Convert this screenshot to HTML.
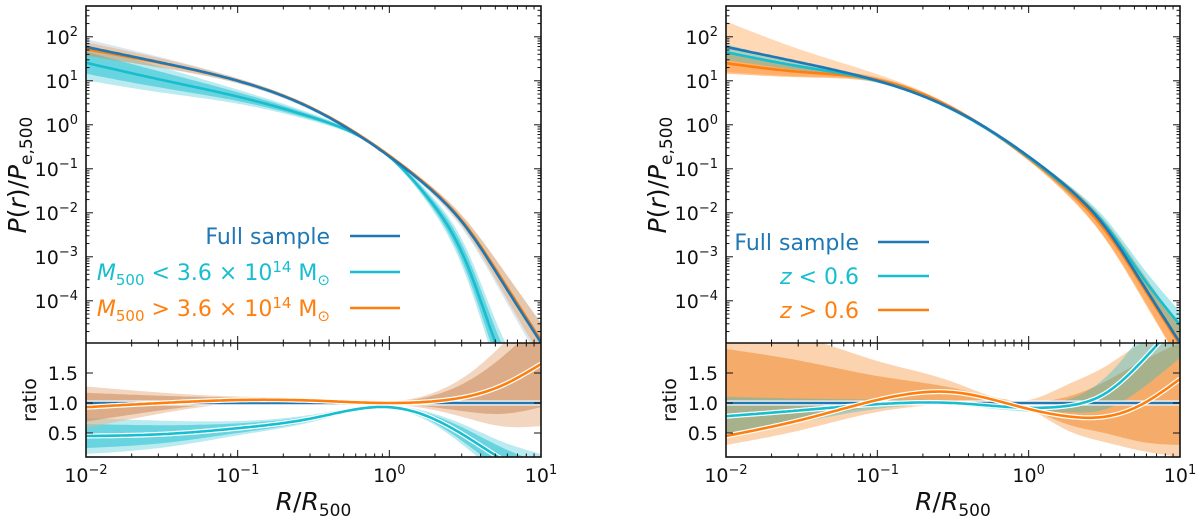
<!DOCTYPE html>
<html><head><meta charset="utf-8"><style>
body{margin:0;background:#fff;}
svg text{font-family:"DejaVu Sans","Liberation Sans",sans-serif;fill:#111;}
</style></head><body>
<svg id="fig" width="1200" height="523" viewBox="0 0 1200 523" xmlns="http://www.w3.org/2000/svg"></svg>
<script>
// ---- data (log10 x knots) ----
const knotsX = [-2, -1.5, -1, -0.5, 0, 0.25, 0.5, 0.75, 1];
// left top panel: log10 P
const L_full   = [1.77, 1.41, 1.0, 0.35, -0.72, -1.4, -2.3, -3.6, -4.95];
const L_high   = [1.72, 1.40, 1.0, 0.36, -0.70, -1.38, -2.27, -3.55, -4.9];
const L_low    = [1.41, 1.02, 0.64, 0.16, -0.72, -1.64, -3.07, -5.4, -7.0];
const L_bandHi = [0.12, 0.08, 0.04, 0.03, 0.02, 0.05, 0.1, 0.2, 0.3];
const L_bandLo = [0.25, 0.18, 0.1, 0.05, 0.03, 0.08, 0.2, 0.35, 0.5];
// left ratio panel
const LR_high  = [0.93, 1.0, 1.05, 1.04, 1.0, 1.02, 1.1, 1.3, 1.65];
const LR_low   = [0.45, 0.48, 0.58, 0.75, 0.93, 0.78, 0.45, 0.05, -0.3];
const LR_highW = [0.3, 0.15, 0.05, 0.03, 0.02, 0.1, 0.3, 0.6, 0.9];
const LR_lowW  = [0.2, 0.15, 0.08, 0.04, 0.02, 0.05, 0.12, 0.2, 0.3];
// right top panel
const R_full   = [1.77, 1.41, 1.0, 0.35, -0.72, -1.4, -2.3, -3.6, -4.95];
const R_lowz   = [1.65, 1.32, 1.0, 0.34, -0.74, -1.42, -2.25, -3.45, -4.55];
const R_highz  = [1.4, 1.2, 1.02, 0.37, -0.76, -1.46, -2.37, -3.65, -5.0];
const R_highzLo= [1.2, 1.1, 0.98, 0.34, -0.8, -1.55, -2.55, -3.9, -5.4];
const R_highzHi= [2.35, 1.7, 1.15, 0.42, -0.7, -1.35, -2.2, -3.4, -4.6];
const R_lowzW  = [0.12, 0.06, 0.03, 0.02, 0.03, 0.06, 0.1, 0.15, 0.2];
// right ratio panel
const RR_lowz  = [0.78, 0.88, 0.98, 1.0, 0.92, 0.95, 1.15, 1.7, 2.4];
const RR_highz = [0.45, 0.72, 1.05, 1.18, 0.9, 0.78, 0.77, 0.98, 1.4];
const RR_outHi = [2.3, 2.1, 1.7, 1.35, 1.05, 1.3, 1.6, 2.0, 2.2];
const RR_outLo = [0.3, 0.55, 0.85, 1.0, 0.9, 0.55, 0.35, 0.2, 0.1];
const RR_inHi  = [1.9, 1.7, 1.45, 1.25, 1.02, 1.1, 1.35, 1.7, 2.0];
const RR_inLo  = [0.5, 0.7, 0.95, 1.0, 0.9, 0.65, 0.5, 0.35, 0.3];
const RR_lowzW = [0.25, 0.15, 0.06, 0.03, 0.05, 0.08, 0.2, 0.35, 0.5];
const xTickLabels = ["−2","−1","0","1"];
const yTickLabels = ["2","1","0","−1","−2","−3","−4"];
const rTickLabels = ["0.5","1.0","1.5"];
const C_BLUE="#1f77b4", C_CYAN="#17becf", C_ORANGE="#ff7f0e";

const NS="http://www.w3.org/2000/svg";
const svg=document.getElementById('fig');
function mk(tag,attrs,parent){const e=document.createElementNS(NS,tag);for(const k in attrs)e.setAttribute(k,attrs[k]);(parent||svg).appendChild(e);return e;}
function spline(ys){ // natural cubic spline on knotsX
  const x=knotsX,n=x.length,h=[],al=[],l=[1],mu=[0],z=[0],c=new Array(n).fill(0),b=[],d=[];
  for(let i=0;i<n-1;i++)h.push(x[i+1]-x[i]);
  for(let i=1;i<n-1;i++)al[i]=3/h[i]*(ys[i+1]-ys[i])-3/h[i-1]*(ys[i]-ys[i-1]);
  for(let i=1;i<n-1;i++){l[i]=2*(x[i+1]-x[i-1])-h[i-1]*mu[i-1];mu[i]=h[i]/l[i];z[i]=(al[i]-h[i-1]*z[i-1])/l[i];}
  z[n-1]=0;
  for(let j=n-2;j>=0;j--){c[j]=z[j]-mu[j]*c[j+1];b[j]=(ys[j+1]-ys[j])/h[j]-h[j]*(c[j+1]+2*c[j])/3;d[j]=(c[j+1]-c[j])/(3*h[j]);}
  return t=>{let i=0;while(i<n-2&&t>x[i+1])i++;const u=t-x[i];return ys[i]+b[i]*u+c[i]*u*u+d[i]*u*u*u;};
}
const TOP=6,MID=343,BOT=457;
function panel(x0,W,idx){
  const sx=lx=>x0+(lx+2)/3*W;
  const sy=ly=>TOP+(2.7-ly)*44;
  const sr=r=>403-(r-1)*60;
  const cid='clipT'+idx, rid='clipR'+idx;
  const defs=mk('defs',{});
  const c1=mk('clipPath',{id:cid},defs);mk('rect',{x:x0,y:TOP,width:W,height:MID-TOP},c1);
  const c2=mk('clipPath',{id:rid},defs);mk('rect',{x:x0,y:MID,width:W,height:BOT-MID},c2);
  const gT=mk('g',{'clip-path':`url(#${cid})`});
  
  const gR=mk('g',{'clip-path':`url(#${rid})`});
  
  const N=150;const ts=[];for(let i=0;i<=N;i++)ts.push(-2+3*i/N);
  function line(g,ys,sc,col,name,outline){
    const f=spline(ys);
    const d=ts.map((t,i)=>(i?'L':'M')+sx(t).toFixed(1)+','+sc(f(t)).toFixed(1)).join('');
    if(outline){const o=mk('path',{d,fill:'none',stroke:'#fff','stroke-width':5},g);}
    const p=mk('path',{d,fill:'none',stroke:col,'stroke-width':2.6},g);
    
  }
  function area(g,hi,lo,sc,col,op,name){
    const fh=spline(hi),fl=spline(lo);
    const up=ts.map(t=>[sx(t),sc(fh(t))]);
    const dn=ts.map(t=>[sx(t),sc(fl(t))]).reverse();
    const d='M'+up.concat(dn).map(p=>p[0].toFixed(1)+','+p[1].toFixed(1)).join('L')+'Z';
    const p=mk('path',{d,fill:col,'fill-opacity':op,stroke:'none'},g);
    
  }
  function band(g,ys,ws,mult,sc,col,op,name){
    area(g,ys.map((v,i)=>v+mult*ws[i]),ys.map((v,i)=>v-mult*ws[i]),sc,col,op,name);
  }
  return {sx,sy,sr,gT,gR,line,band,area,x0,W};
}
function axes(P,idx,legend){
  const {sx,sy,sr,x0,W}=P;
  const fr=mk('rect',{x:x0,y:TOP,width:W,height:BOT-TOP,fill:'none',stroke:'#111','stroke-width':1.6});
  
  const dv=mk('line',{x1:x0,x2:x0+W,y1:MID,y2:MID,stroke:'#111','stroke-width':1.6});
  
  const tk=mk('g',{stroke:'#111','stroke-width':1});
  
  for(let d=-2;d<=1;d++){for(let m=1;m<10;m++){const lx=d+Math.log10(m);if(lx>1)break;const X=sx(lx);const L=m===1?7:3.5;
    [[TOP,1],[MID,-1],[MID,1],[BOT,-1]].forEach(([y,s])=>mk('line',{x1:X,x2:X,y1:y,y2:y+s*L},tk));}}
  for(let d=-5;d<=2;d++){for(let m=1;m<10;m++){const ly=d+Math.log10(m);const Y=sy(ly);if(Y<TOP||Y>MID)continue;const L=m===1?7:3.5;
    mk('line',{x1:x0,x2:x0+L,y1:Y,y2:Y},tk);mk('line',{x1:x0+W,x2:x0+W-L,y1:Y,y2:Y},tk);}}
  [0.5,1.0,1.5].forEach(r=>{const Y=sr(r);mk('line',{x1:x0,x2:x0+7,y1:Y,y2:Y},tk);mk('line',{x1:x0+W,x2:x0+W-7,y1:Y,y2:Y},tk);});
  xTickLabels.forEach((lab,i)=>{const t=mk('text',{x:sx(i-2),y:482,'font-size':19,'text-anchor':'middle'});
    
    t.innerHTML='10<tspan dy="-8" font-size="13">'+lab+'</tspan>';});
  yTickLabels.forEach((lab,i)=>{const t=mk('text',{x:x0-8,y:sy(2-i)+7,'font-size':19,'text-anchor':'end'});
    
    t.innerHTML='10<tspan dy="-8" font-size="13">'+lab+'</tspan>';});
  rTickLabels.forEach((lab,i)=>{const t=mk('text',{x:x0-8,y:sr(0.5+0.5*i)+7,'font-size':19,'text-anchor':'end'});
    t.textContent=lab;});
  const yl=mk('text',{transform:`translate(${x0-60},175) rotate(-90)`,'font-size':25,'text-anchor':'middle'});
  
  yl.innerHTML='<tspan font-style="italic">P</tspan>(<tspan font-style="italic">r</tspan>)/<tspan font-style="italic">P</tspan><tspan font-size="17" dy="6">e,500</tspan>';
  const rl=mk('text',{transform:`translate(${x0-50},400) rotate(-90)`,'font-size':19,'text-anchor':'middle'});
  rl.textContent='ratio';
  const xl=mk('text',{x:x0+W/2,y:510,'font-size':25,'text-anchor':'middle'});
  
  xl.innerHTML='<tspan font-style="italic">R</tspan>/<tspan font-style="italic">R</tspan><tspan font-size="17" dy="6">500</tspan>';
  legend.forEach(([html,col,y,tx,l1,l2])=>{
    const g=mk('g',{});
    const t=mk('text',{x:tx,y:y+8,'font-size':22,'text-anchor':'end',fill:col,style:'fill:'+col},g);t.innerHTML=html;
    mk('line',{x1:l1,x2:l2,y1:y,y2:y,stroke:col,'stroke-width':2.6},g);
  });
}
// Left panel
const A=panel(86,455,1);
A.band(A.gT,L_low,L_bandLo,1.6,A.sy,C_CYAN,0.3,'band-low-mass-outer');
A.band(A.gT,L_low,L_bandLo,1,A.sy,C_CYAN,0.5,'band-low-mass');
A.band(A.gT,L_full,L_bandHi,1.5,A.sy,'#6a9fc8',0.25,'band-full');
A.band(A.gT,L_high,L_bandHi,1.3,A.sy,C_ORANGE,0.3,'band-high-mass');
A.line(A.gT,L_low,A.sy,C_CYAN,'line-low-mass');
A.line(A.gT,L_high,A.sy,C_ORANGE,'line-high-mass');
A.line(A.gT,L_full,A.sy,C_BLUE,'line-full');
A.band(A.gR,LR_low,LR_lowW,1.5,A.sr,C_CYAN,0.3,'ratio-band-low-mass-outer');
A.band(A.gR,LR_low,LR_lowW,1,A.sr,C_CYAN,0.5,'ratio-band-low-mass');
A.band(A.gR,LR_high,LR_highW,1.15,A.sr,'#e8b48a',0.55,'ratio-band-high-mass-outer');
A.band(A.gR,LR_high,LR_highW,0.8,A.sr,'#c98a5a',0.55,'ratio-band-high-mass');
A.line(A.gR,[1,1,1,1,1,1,1,1,1],A.sr,C_BLUE,'ratio-line-full',true);
A.line(A.gR,LR_high,A.sr,C_ORANGE,'ratio-line-high-mass',true);
A.line(A.gR,LR_low,A.sr,C_CYAN,'ratio-line-low-mass',true);
axes(A,1,[
 ['Full sample',C_BLUE,236,330,350,400],
 ['<tspan font-style="italic">M</tspan><tspan font-size="15" dy="5">500</tspan><tspan dy="-5"> &lt; 3.6 × 10</tspan><tspan font-size="15" dy="-8">14</tspan><tspan dy="8"> M</tspan><tspan font-size="15" dy="5">⊙</tspan>',C_CYAN,272,330,350,400],
 ['<tspan font-style="italic">M</tspan><tspan font-size="15" dy="5">500</tspan><tspan dy="-5"> &gt; 3.6 × 10</tspan><tspan font-size="15" dy="-8">14</tspan><tspan dy="8"> M</tspan><tspan font-size="15" dy="5">⊙</tspan>',C_ORANGE,308,330,350,400]
]);
// Right panel
const B=panel(726,454,2);
B.area(B.gT,R_highzHi,R_highzLo,B.sy,C_ORANGE,0.3,'band-high-z-outer');
B.band(B.gT,R_highz,R_lowzW,2,B.sy,C_ORANGE,0.45,'band-high-z');
B.band(B.gT,R_lowz,R_lowzW,1.5,B.sy,C_CYAN,0.35,'band-low-z');
B.line(B.gT,R_highz,B.sy,C_ORANGE,'line-high-z');
B.line(B.gT,R_lowz,B.sy,C_CYAN,'line-low-z');
B.line(B.gT,R_full,B.sy,C_BLUE,'line-full-right');
B.area(B.gR,RR_outHi,RR_outLo,B.sr,'#fbc89b',0.8,'ratio-band-high-z-outer');
B.area(B.gR,RR_inHi,RR_inLo,B.sr,'#f3a25a',0.8,'ratio-band-high-z');
B.band(B.gR,RR_lowz,RR_lowzW,1.3,B.sr,C_CYAN,0.35,'ratio-band-low-z');
B.line(B.gR,[1,1,1,1,1,1,1,1,1],B.sr,C_BLUE,'ratio-line-full-right',true);
B.line(B.gR,RR_lowz,B.sr,C_CYAN,'ratio-line-low-z',true);
B.line(B.gR,RR_highz,B.sr,C_ORANGE,'ratio-line-high-z',true);
axes(B,2,[
 ['Full sample',C_BLUE,242,859,878,929],
 ['<tspan font-style="italic">z</tspan> &lt; 0.6',C_CYAN,276,859,878,929],
 ['<tspan font-style="italic">z</tspan> &gt; 0.6',C_ORANGE,310,859,878,929]
]);
</script>
</body></html>
